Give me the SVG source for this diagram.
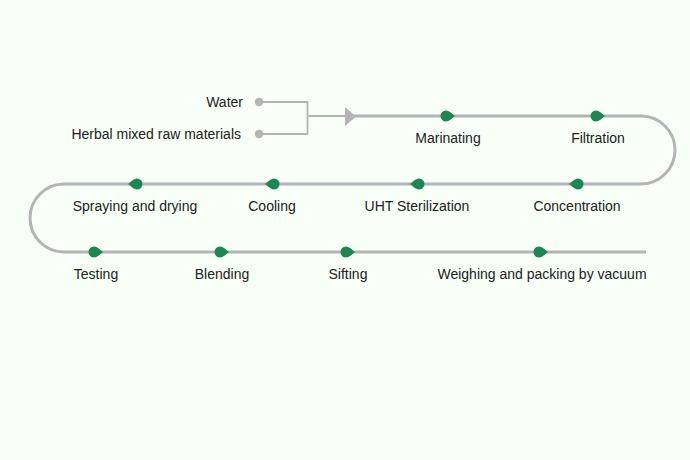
<svg xmlns="http://www.w3.org/2000/svg" width="690" height="460" viewBox="0 0 690 460">
<style>
.lbl{font-family:"Liberation Sans",Arial,sans-serif;font-size:14px;fill:#222;text-anchor:middle}
.in{font-family:"Liberation Sans",Arial,sans-serif;font-size:14px;fill:#222;text-anchor:end}
.flow{fill:none;stroke:#b4b4b4;stroke-width:3}
.br{fill:none;stroke:#b4b4b4;stroke-width:1.8}
.mk{fill:#1d8753}
</style>
<defs>
<path id="drop" d="M9.5,0 C6.5,-1.2 4,-5.5 0,-5.5 A5.5,5.5 0 0 0 0,5.5 C4,5.5 6.5,1.2 9.5,0 Z"/>
</defs>
<rect width="690" height="460" fill="#f7fff7"/>
<g id="connectors">
<path class="br" d="M259,102 H307.5 V134 H259"/>
<path class="br" d="M307.5,116 H348" stroke-width="2.2"/>
<path class="flow" d="M350,116 H641 A34,34 0 0 1 641,184 H64 A34,34 0 0 0 64,252 H646"/>
<polygon points="345,107 356,116.5 345,126" fill="#b4b4b4"/>
<circle cx="259" cy="102" r="4.2" fill="#b4b4b4"/>
<circle cx="259" cy="134" r="4.2" fill="#b4b4b4"/>
</g>
<g id="water"><text class="in" x="243" y="107">Water</text></g>
<g id="herbal"><text class="in" x="241" y="139">Herbal mixed raw materials</text></g>
<g id="marinating"><use href="#drop" class="mk" transform="translate(446,116)"/><text class="lbl" x="448" y="143">Marinating</text></g>
<g id="filtration"><use href="#drop" class="mk" transform="translate(596,116)"/><text class="lbl" x="598" y="143">Filtration</text></g>
<g id="concentration"><use href="#drop" class="mk" transform="translate(578,184) scale(-1,1)"/><text class="lbl" x="577" y="211">Concentration</text></g>
<g id="uht"><use href="#drop" class="mk" transform="translate(419,184) scale(-1,1)"/><text class="lbl" x="417" y="211">UHT Sterilization</text></g>
<g id="cooling"><use href="#drop" class="mk" transform="translate(274,184) scale(-1,1)"/><text class="lbl" x="272" y="211">Cooling</text></g>
<g id="spraying"><use href="#drop" class="mk" transform="translate(137,184) scale(-1,1)"/><text class="lbl" x="135" y="211">Spraying and drying</text></g>
<g id="testing"><use href="#drop" class="mk" transform="translate(94,252)"/><text class="lbl" x="96" y="279">Testing</text></g>
<g id="blending"><use href="#drop" class="mk" transform="translate(220,252)"/><text class="lbl" x="222" y="279">Blending</text></g>
<g id="sifting"><use href="#drop" class="mk" transform="translate(346,252)"/><text class="lbl" x="348" y="279">Sifting</text></g>
<g id="weighing"><use href="#drop" class="mk" transform="translate(539,252)"/><text class="lbl" x="542" y="279">Weighing and packing by vacuum</text></g>
</svg>
